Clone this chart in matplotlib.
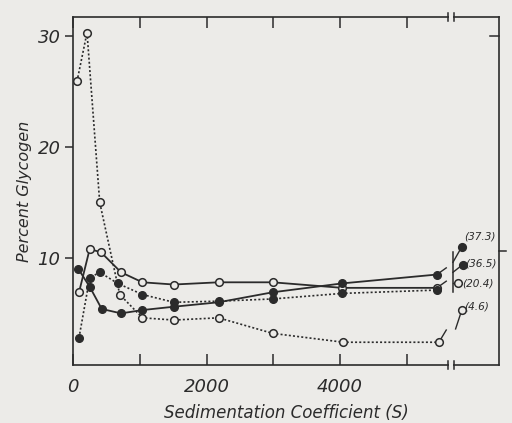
import matplotlib
matplotlib.use("Agg")
import matplotlib.pyplot as plt

# ---- data ----
x_open_dot = [60, 210, 400, 700, 1040, 1510, 2180, 2990, 4050, 5480]
y_open_dot = [25.9, 30.3, 15.0, 6.7, 4.6, 4.4, 4.6, 3.2, 2.4, 2.4]

x_open_solid = [90, 250, 420, 720, 1040, 1510, 2180, 2990, 4030, 5450]
y_open_solid = [6.9, 10.8, 10.5, 8.7, 7.8, 7.6, 7.8, 7.8, 7.3, 7.3]

x_fill_solid = [80, 250, 430, 720, 1040, 1510, 2180, 2990, 4030, 5450]
y_fill_solid = [9.0, 7.4, 5.4, 5.0, 5.3, 5.6, 6.0, 6.9, 7.7, 8.5]

x_fill_dot = [90, 250, 400, 670, 1040, 1510, 2180, 2990, 4030, 5450]
y_fill_dot = [2.8, 8.2, 8.7, 7.7, 6.7, 6.0, 6.1, 6.3, 6.8, 7.1]

pellet_labels = ["(37.3)", "(36.5)", "(20.4)", "(4.6)"]
pellet_filled = [True, True, False, False]

xticks = [0, 1000, 2000, 3000, 4000, 5000]
xticklabels = ["0", "", "2000", "", "4000", ""]
yticks = [10, 20, 30]
yticklabels = ["10", "20", "30"]

# ---- style ----
BG = "#ecebe8"
INK = "#2b2b2b"
plt.rcParams["font.family"] = ["DejaVu Sans"]

fig = plt.figure(figsize=(5.12, 4.23), dpi=100, facecolor=BG)
ax = fig.add_axes([73/512, 1-365/423, (499-73)/512, (365-17)/423], facecolor=BG)
ax.set_xlim(0, 6380)
ax.set_ylim(0.35, 31.7)

ms = 5.5
dot = (0, (1.2, 1.3))
ax.plot(x_open_dot, y_open_dot, color=INK, lw=1.2, ls=dot, marker="o", ms=ms,
        mfc=BG, mec=INK, mew=1.1, zorder=3)
ax.plot(x_open_solid, y_open_solid, color=INK, lw=1.3, ls="-", marker="o", ms=ms,
        mfc=BG, mec=INK, mew=1.1, zorder=3)
ax.plot(x_fill_dot, y_fill_dot, color=INK, lw=1.2, ls=dot, marker="o", ms=ms,
        mfc=INK, mec=INK, zorder=4)
ax.plot(x_fill_solid, y_fill_solid, color=INK, lw=1.3, ls="-", marker="o", ms=ms,
        mfc=INK, mec=INK, zorder=4)

# ---- axes styling ----
for s in ax.spines.values():
    s.set_color(INK)
    s.set_linewidth(1.2)
ax.set_xticks(xticks)
ax.set_xticklabels(xticklabels, fontsize=13, style="italic", color=INK)
ax.set_yticks(yticks)
ax.set_yticklabels(yticklabels, fontsize=13, style="italic", color=INK)
ax.tick_params(axis="x", direction="in", length=8, width=1.1, color=INK,
               top=True, pad=9)
ax.tick_params(axis="y", direction="out", length=6, width=1.1, color=INK, pad=3)
ax.tick_params(axis="y", which="both", right=False)
ax.set_xlabel("Sedimentation Coefficient (S)", fontsize=12, style="italic",
              color=INK, labelpad=6)
ax.set_ylabel("Percent Glycogen", fontsize=11.5, style="italic", color=INK,
              labelpad=4)

# right-hand small ticks (one inward, one outward as in the original)
ax.plot([0.978, 1.0], [30, 30], transform=ax.get_yaxis_transform(),
        color=INK, lw=1.1, clip_on=False)
ax.plot([1.0, 1.016], [10.6, 10.6], transform=ax.get_yaxis_transform(),
        color=INK, lw=1.1, clip_on=False)

# axis break on top and bottom spines
bx0, bx1 = 5615, 5705
for yy in (0, 1):
    ax.plot([bx0 + 10, bx1 - 10], [yy, yy], transform=ax.get_xaxis_transform(),
            color=BG, lw=3, clip_on=False, zorder=5, solid_capstyle="butt")
    for bx in (bx0, bx1):
        ax.plot([bx, bx], [yy - 0.012, yy + 0.012], transform=ax.get_xaxis_transform(),
                color=INK, lw=1.1, clip_on=False, zorder=6)

# pellet annotations (positions in data units of the x/y axes)
sep_x = 5690
ax.plot([sep_x, sep_x], [6.9, 10.5], color=INK, lw=1.1)
# small tails from series ends
ax.plot([5450, 5590], [y_fill_solid[-1], y_fill_solid[-1] + 0.6], color=INK, lw=1.0)
ax.plot([5450, 5590], [y_open_solid[-1], y_open_solid[-1] + 0.6], color=INK, lw=1.0)
ax.plot([5480, 5590], [y_open_dot[-1], y_open_dot[-1] + 1.1], color=INK, lw=1.0)

mk_x = [5823, 5838, 5763, 5823]
mk_y = [11.0, 9.4, 7.7, 5.3]
ln_from = [(sep_x, 9.6), (sep_x, 8.7), (sep_x, 7.7), (5730, 3.6)]
tx_x = [5855, 5880, 5830, 5860]
tx_y = [11.9, 9.5, 7.7, 5.6]
for lab, filled, mx, my, lf, tx, ty in zip(pellet_labels, pellet_filled, mk_x, mk_y,
                                          ln_from, tx_x, tx_y):
    ax.plot([lf[0], mx], [lf[1], my], color=INK, lw=1.0)
    ax.plot([mx], [my], marker="o", ms=ms, mfc=INK if filled else BG, mec=INK,
            mew=1.1, zorder=5)
    ax.text(tx, ty, lab, fontsize=7.6, style="italic", color=INK,
            ha="left", va="center", clip_on=False)

fig.savefig("out.png", dpi=100, facecolor=BG)
